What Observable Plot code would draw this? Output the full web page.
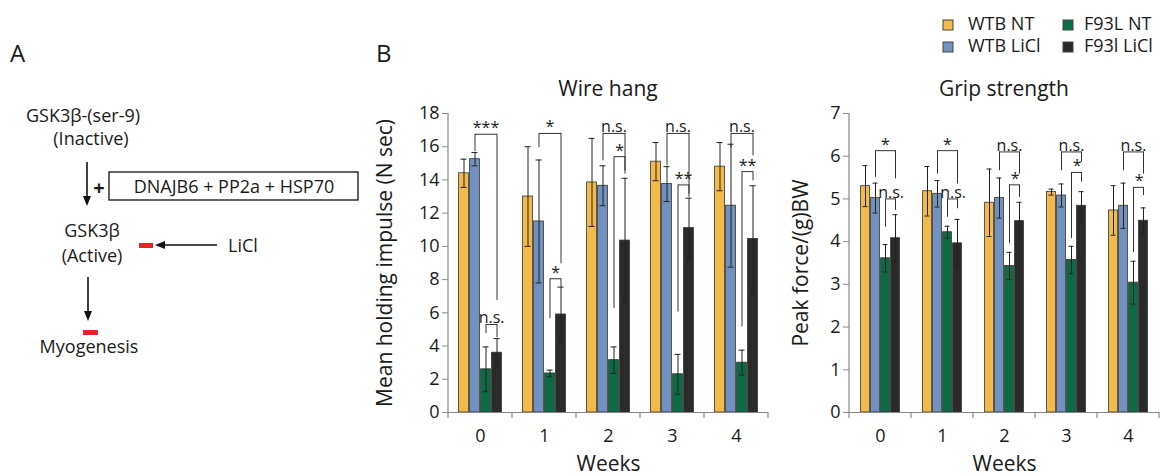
<!DOCTYPE html>
<html><head><meta charset="utf-8">
<script src="https://cdn.jsdelivr.net/npm/d3@7"></script>
<script src="https://cdn.jsdelivr.net/npm/@observablehq/plot@0.6"></script>
<style>
body{margin:0;background:#fff;font-family:"Open Sans",sans-serif;}
#root{position:relative;width:1162px;height:476px;overflow:hidden;background:#fff;}
#bg{position:absolute;left:0;top:0;}
.plot{position:absolute;}
</style></head><body>
<div id="root">
<svg id="bg" width="1162" height="476" font-family="Open Sans" fill="#1a1a1a">
  <text x="10" y="62" font-size="24">A</text>
  <text x="83" y="122" text-anchor="middle" font-size="18">GSK3β-(ser-9)</text>
  <text x="91" y="145" text-anchor="middle" font-size="18">(Inactive)</text>
  <line x1="87" y1="162" x2="87" y2="198" stroke="#111" stroke-width="1.6"/>
  <polygon points="87,206 83,196 91,196" fill="#111"/>
  <text x="99" y="195" text-anchor="middle" font-size="20" font-weight="bold">+</text>
  <rect x="109" y="172" width="249" height="28" fill="none" stroke="#111" stroke-width="1.3"/>
  <text x="234" y="193" text-anchor="middle" font-size="18">DNAJB6 + PP2a + HSP70</text>
  <text x="92" y="237" text-anchor="middle" font-size="18">GSK3β</text>
  <text x="92" y="262" text-anchor="middle" font-size="18">(Active)</text>
  <rect x="139" y="243" width="14" height="5" fill="#E4252B"/>
  <line x1="217" y1="245" x2="163" y2="245" stroke="#111" stroke-width="1.6"/>
  <polygon points="155,245 165,241 165,249" fill="#111"/>
  <text x="228" y="252" font-size="18">LiCl</text>
  <line x1="88" y1="277" x2="88" y2="313" stroke="#111" stroke-width="1.6"/>
  <polygon points="88,321 84,311 92,311" fill="#111"/>
  <rect x="83" y="330" width="15" height="5" fill="#E4252B"/>
  <text x="89" y="353" text-anchor="middle" font-size="18">Myogenesis</text>
  <text x="376" y="62" font-size="24">B</text>
  <text x="608" y="96" text-anchor="middle" font-size="21">Wire hang</text>
  <text x="1004" y="96" text-anchor="middle" font-size="21">Grip strength</text>
  <g id="legend"></g>
</svg>
<div id="wire" class="plot" style="left:370px;top:95px"></div>
<div id="grip" class="plot" style="left:770px;top:95px"></div>
</div>
<script>
// ---------- data ----------
const weeks = [0, 1, 2, 3, 4];
const groups = ["WTB NT", "WTB LiCl", "F93L NT", "F93l LiCl"];
const groupColors = ["#F3B94A", "#7191BF", "#0B6B43", "#2A2A2A"];

// Wire hang (mean holding impulse, N sec)
const wireWtbNt = [14.4, 13.0, 13.85, 15.1, 14.8];
const wireWtbNtErr = [0.85, 3.0, 2.65, 1.15, 1.45];
const wireWtbLicl = [15.25, 11.5, 13.65, 13.75, 12.45];
const wireWtbLiclErr = [0.4, 3.7, 1.2, 1.05, 3.7];
const wireF93lNt = [2.6, 2.35, 3.15, 2.3, 3.0];
const wireF93lNtErr = [1.35, 0.2, 0.8, 1.2, 0.75];
const wireF93lLicl = [3.6, 5.9, 10.35, 11.1, 10.45];
const wireF93lLiclErr = [0.85, 1.65, 3.75, 1.8, 3.2];
// significance brackets (WTB LiCl vs F93l LiCl, F93L NT vs F93l LiCl)
const wireOuterY = [16.75, 16.8, 16.8, 16.8, 16.8];
const wireOuterLeft = [15.7, 15.95, 15.15, 14.85, 15.95];
const wireOuterRight = [6.75, 8.95, 14.35, 13.15, 15.45];
const wireOuterLabel = ["***", "*", "n.s.", "n.s.", "n.s."];
const wireInnerY = [5.3, 8.05, 15.4, 13.7, 14.5];
const wireInnerLeft = [4.75, 5.65, 6.25, 6.05, 5.15];
const wireInnerRight = [4.5, 7.55, 14.55, 12.95, 13.95];
const wireInnerLabel = ["n.s.", "*", "*", "**", "**"];
const wireTicks = [0, 2, 4, 6, 8, 10, 12, 14, 16, 18];

// Grip strength (peak force/(g)BW)
const gripWtbNt = [5.3, 5.18, 4.91, 5.16, 4.73];
const gripWtbNtErr = [0.48, 0.58, 0.79, 0.07, 0.58];
const gripWtbLicl = [5.02, 5.12, 5.02, 5.08, 4.84];
const gripWtbLiclErr = [0.35, 0.31, 0.47, 0.27, 0.53];
const gripF93lNt = [3.61, 4.22, 3.43, 3.57, 3.04];
const gripF93lNtErr = [0.32, 0.14, 0.32, 0.32, 0.5];
const gripF93lLicl = [4.08, 3.96, 4.48, 4.84, 4.49];
const gripF93lLiclErr = [0.55, 0.56, 0.44, 0.33, 0.3];
const gripOuterY = [6.13, 6.13, 6.1, 6.1, 6.1];
const gripOuterLeft = [5.5, 5.58, 5.66, 5.66, 5.66];
const gripOuterRight = [5.47, 5.35, 5.58, 5.86, 5.58];
const gripOuterLabel = ["*", "*", "n.s.", "n.s.", "n.s."];
const gripInnerY = [5.0, 5.0, 5.33, 5.62, 5.27];
const gripInnerLeft = [4.34, 4.57, 3.95, 4.07, 3.75];
const gripInnerRight = [4.73, 4.77, 5.04, 5.39, 5.08];
const gripInnerLabel = ["n.s.", "n.s.", "*", "*", "*"];
const gripTicks = [0, 1, 2, 3, 4, 5, 6, 7];

// ---------- legend ----------
const legend = d3.select("#legend");
groups.forEach((g, i) => {
  const col = Math.floor(i / 2), row = i % 2;
  const gx = 943 + col * 120, gy = 20 + row * 22;
  legend.append("rect").attr("x", gx).attr("y", gy).attr("width", 10).attr("height", 10)
    .attr("fill", groupColors[i]).attr("stroke", "#444").attr("stroke-width", 1);
  legend.append("text").attr("x", gx + 25 - col * 4).attr("y", gy + 10).attr("font-size", 18).text(g);
});

// ---------- helpers ----------
function makeRows(means, errs) {
  const rows = [];
  groups.forEach((g, gi) => weeks.forEach((w, wi) => rows.push({
    week: w, group: g, value: means[gi][wi], lo: means[gi][wi] - errs[gi][wi], hi: means[gi][wi] + errs[gi][wi]
  })));
  return rows;
}
function makeBrackets(ys, lefts, rights, labels) {
  return weeks.map((w, i) => ({week: w, y: ys[i], left: lefts[i], right: rights[i], label: labels[i]}));
}

function chart({rows, outer, inner, yMax, ticks, ylabel, width, labelOffset}) {
  const ml = 78, mr = 2, mt = 18, mb = 64, height = 381;
  const bracketMarks = (br, leftGroup, rightGroup, textGroup, textDx) => [
    Plot.link(br, {fx: "week", x1: () => leftGroup, x2: () => rightGroup, y1: "y", y2: "y", stroke: "#333", strokeWidth: 1}),
    Plot.ruleX(br, {fx: "week", x: () => leftGroup, y1: "y", y2: "left", stroke: "#333", strokeWidth: 1}),
    Plot.ruleX(br, {fx: "week", x: () => rightGroup, y1: "y", y2: "right", stroke: "#333", strokeWidth: 1}),
    Plot.text(br, {fx: "week", x: () => textGroup, y: "y", text: "label", dx: textDx, dy: -1, lineAnchor: "bottom", fontSize: 16, fill: "#1a1a1a"})
  ];
  const plot = Plot.plot({
    width, height, marginLeft: ml, marginRight: mr, marginTop: mt, marginBottom: mb,
    style: {fontFamily: "Open Sans", fontSize: "18px", color: "#1a1a1a", overflow: "visible", background: "transparent"},
    fx: {domain: weeks, padding: 0},
    x: {domain: groups, paddingInner: 0, paddingOuter: 0.85, axis: null},
    y: {domain: [0, yMax]},
    color: {domain: groups, range: groupColors},
    marks: [
      Plot.axisY({ticks, tickFormat: d3.format("d"), tickSize: 6, tickPadding: 3, strokeOpacity: 0.5, label: ylabel, labelAnchor: "center", labelArrow: "none", labelOffset}),
      Plot.axisFx({anchor: "bottom", tickSize: 0, tickPadding: 17, label: "Weeks", labelAnchor: "center", labelArrow: "none", labelOffset: 58}),
      Plot.barY(rows, {fx: "week", x: "group", y: "value", fill: "group", stroke: "#333", strokeWidth: 0.8, insetLeft: 0.6, insetRight: 0.6}),
      Plot.ruleX(rows, {fx: "week", x: "group", y1: "lo", y2: "hi", stroke: "#222", strokeWidth: 1}),
      Plot.tickY(rows, {fx: "week", x: "group", y: "lo", stroke: "#222", strokeWidth: 1, insetLeft: 2.5, insetRight: 2.5}),
      Plot.tickY(rows, {fx: "week", x: "group", y: "hi", stroke: "#222", strokeWidth: 1, insetLeft: 2.5, insetRight: 2.5}),
      ...bracketMarks(outer, "WTB LiCl", "F93l LiCl", "F93L NT", 0),
      ...bracketMarks(inner, "F93L NT", "F93l LiCl", "F93L NT", 5.6),
      Plot.ruleY([0], {stroke: "#888", strokeWidth: 1.2})
    ]
  });
  // axis line and band-boundary ticks, positioned through the plot's own scales
  const fx = plot.scale("fx"), y = plot.scale("y");
  const svg = d3.select(plot.tagName.toLowerCase() === "svg" ? plot : plot.querySelector("svg"));
  const y0 = y.apply(0), yTop = y.apply(yMax);
  const x0 = fx.apply(weeks[0]);
  const g = svg.append("g").attr("stroke", "#888").attr("stroke-width", 1.2);
  g.append("line").attr("x1", x0).attr("x2", x0).attr("y1", y0).attr("y2", yTop);
  const bounds = weeks.map(w => fx.apply(w)).concat([fx.apply(weeks[weeks.length - 1]) + fx.bandwidth]);
  bounds.forEach(b => g.append("line").attr("x1", b).attr("x2", b).attr("y1", y0).attr("y2", y0 + 6));
  svg.selectAll('[aria-label="y-axis label"] text, [aria-label="fx-axis label"] text').attr("font-size", 21);
  return plot;
}

document.getElementById("wire").append(chart({
  rows: makeRows([wireWtbNt, wireWtbLicl, wireF93lNt, wireF93lLicl], [wireWtbNtErr, wireWtbLiclErr, wireF93lNtErr, wireF93lLiclErr]),
  outer: makeBrackets(wireOuterY, wireOuterLeft, wireOuterRight, wireOuterLabel),
  inner: makeBrackets(wireInnerY, wireInnerLeft, wireInnerRight, wireInnerLabel),
  yMax: 18, ticks: wireTicks, ylabel: "Mean holding impulse (N sec)", width: 400, labelOffset: 71
}));
document.getElementById("grip").append(chart({
  rows: makeRows([gripWtbNt, gripWtbLicl, gripF93lNt, gripF93lLicl], [gripWtbNtErr, gripWtbLiclErr, gripF93lNtErr, gripF93lLiclErr]),
  outer: makeBrackets(gripOuterY, gripOuterLeft, gripOuterRight, gripOuterLabel),
  inner: makeBrackets(gripInnerY, gripInnerLeft, gripInnerRight, gripInnerLabel),
  yMax: 7, ticks: gripTicks, ylabel: "Peak force/(g)BW", width: 392, labelOffset: 56
}));
</script>
</body></html>
